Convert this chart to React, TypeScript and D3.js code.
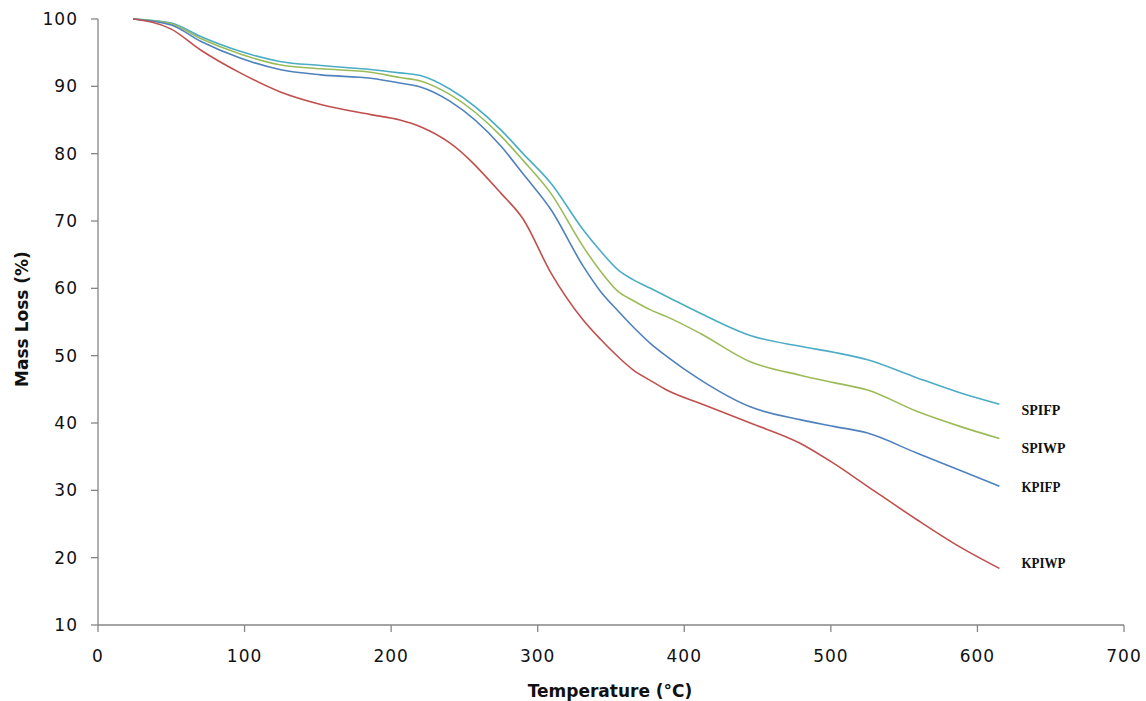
import React, { useEffect } from 'react';
import * as d3 from 'd3';

// temperatures (°C) shared by all four samples
const temps = [24, 50, 70, 97, 124, 152, 186, 206, 220, 240, 275, 290, 309, 331, 343, 355, 365, 377, 388, 411, 445, 479, 502, 525, 559, 588, 615];

// mass remaining (%)
const spifp = [100, 99.4, 97.4, 95.2, 93.7, 93.1, 92.5, 92.0, 91.6, 89.6, 83.5, 80.0, 75.6, 68.7, 65.5, 62.7, 61.3, 60.0, 58.8, 56.3, 53.0, 51.4, 50.5, 49.4, 46.7, 44.5, 42.8];
const spiwp = [100, 99.3, 97.1, 94.8, 93.2, 92.6, 92.1, 91.3, 90.8, 88.8, 82.6, 79.0, 74.1, 66.2, 62.5, 59.5, 58.2, 56.8, 55.8, 53.3, 49.1, 47.1, 46.0, 44.9, 41.7, 39.5, 37.7];
const kpifp = [100, 99.1, 96.7, 94.2, 92.5, 91.7, 91.2, 90.5, 89.9, 87.8, 81.1, 77.0, 71.7, 63.3, 59.5, 56.6, 54.3, 51.8, 49.9, 46.4, 42.4, 40.5, 39.5, 38.5, 35.5, 33.0, 30.6];
const kpiwp = [100, 98.5, 95.4, 92.0, 89.2, 87.3, 85.8, 85.0, 84.0, 81.6, 74.1, 70.3, 62.3, 55.3, 52.4, 49.8, 47.9, 46.3, 44.9, 42.9, 40.0, 37.0, 34.0, 30.6, 25.6, 21.6, 18.4];

const seriesNames = ['SPIFP', 'SPIWP', 'KPIFP', 'KPIWP'];
const seriesValues = [spifp, spiwp, kpifp, kpiwp];
const seriesColors = ['#4BACC6', '#9BBB59', '#4F81BD', '#C0504D'];
// value level at which each end label sits
const labelLevels = [41.2, 35.5, 29.7, 18.4];

const xTicks = [0, 100, 200, 300, 400, 500, 600, 700];
const yTicks = [10, 20, 30, 40, 50, 60, 70, 80, 90, 100];

const W = 1146;
const H = 701;
const margin = { left: 98, right: 22, top: 19, bottom: 76 };

export default function App() {
  useEffect(() => {
    document.body.style.margin = '0';
  }, []);

  const x = d3.scaleLinear().domain([0, 700]).range([margin.left, W - margin.right]);
  const y = d3.scaleLinear().domain([10, 100]).range([H - margin.bottom, margin.top]);

  const line = d3.line<number>()
    .x((_, i) => x(temps[i]))
    .y((d) => y(d))
    .curve(d3.curveMonotoneX);

  const axisColor = '#868686';
  const tickFont = { fontFamily: 'DejaVu Sans', fontSize: 17, letterSpacing: 1, fill: '#111' };

  return (
    <svg width={W} height={H} style={{ display: 'block', background: '#fff' }}>
      {/* y axis */}
      <line x1={x(0)} x2={x(0)} y1={y(100)} y2={y(10)} stroke={axisColor} strokeWidth={1.3} />
      {yTicks.map((t) => (
        <g key={'y' + t}>
          <line x1={x(0) - 7} x2={x(0)} y1={y(t)} y2={y(t)} stroke={axisColor} strokeWidth={1.3} />
          <text x={78} y={y(t)} dy="0.36em" textAnchor="end" {...tickFont}>{t}</text>
        </g>
      ))}
      {/* x axis */}
      <line x1={x(0)} x2={x(700)} y1={y(10)} y2={y(10)} stroke={axisColor} strokeWidth={1.3} />
      {xTicks.map((t) => (
        <g key={'x' + t}>
          <line x1={x(t)} x2={x(t)} y1={y(10)} y2={y(10) + 7} stroke={axisColor} strokeWidth={1.3} />
          <text x={x(t)} y={662} textAnchor="middle" {...tickFont}>{t}</text>
        </g>
      ))}
      <text x={610} y={697} textAnchor="middle" fontFamily="DejaVu Sans" fontWeight="bold" fontSize={17} fill="#111">
        Temperature (°C)
      </text>
      <text transform={`translate(28,319) rotate(-90)`} textAnchor="middle" fontFamily="DejaVu Sans" fontWeight="bold" fontSize={17} fill="#111">
        Mass Loss (%)
      </text>

      {seriesValues.map((vals, i) => (
        <path key={seriesNames[i]} d={line(vals) || ''} fill="none" stroke={seriesColors[i]} strokeWidth={1.6} />
      ))}
      {seriesNames.map((name, i) => (
        <text key={'l' + name} x={x(temps[temps.length - 1]) + 22} y={y(labelLevels[i])}
          fontFamily="Liberation Serif" fontWeight="bold" fontSize={14} fill="#111"
          textLength={name.includes('W') ? 44 : 39} lengthAdjust="spacingAndGlyphs">
          {name}
        </text>
      ))}
    </svg>
  );
}
